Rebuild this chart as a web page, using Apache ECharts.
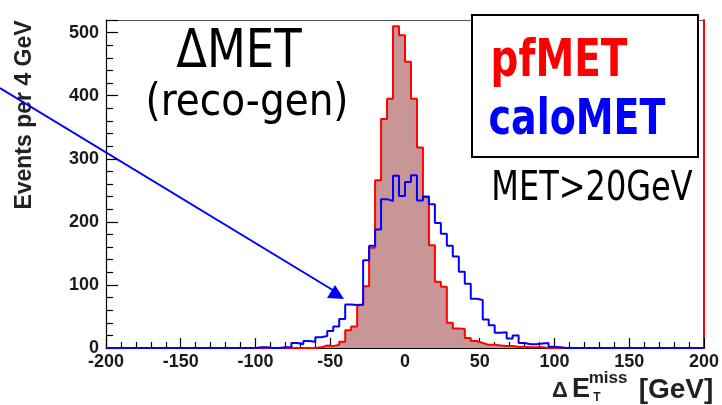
<!DOCTYPE html>
<html>
<head>
<meta charset="utf-8">
<script src="https://cdn.jsdelivr.net/npm/echarts@6/dist/echarts.min.js"></script>
<style>html,body{margin:0;padding:0;background:#fff}#c{width:722px;height:405px}</style>
</head>
<body>
<div id="c"></div>
<script>
// Histogram binning: 100 bins of 4 GeV from -200 to 200
const binStart = -200;
const binWidth = 4;
// pfMET (red, filled) counts per bin
const pfMET = [
  0,0,0,0,0,0,0,0,0,0,
  0,0,0,0,0,0,0,0,0,0,
  0,0,0,0,0,0,0,0,0,0,
  0,0,0,0,0,1,4,3,5,10,
  28,34,68,98,159,266,363,395,510,496,
  454,395,318,239,163,105,97,40,31,30,
  16,11,8,5,5,4,3,3,2,2,
  1,1,1,0,0,0,0,0,0,0,
  0,0,0,0,0,0,0,0,0,0,
  0,0,0,0,0,0,0,0,0,0
];
// caloMET (blue, outline) counts per bin
const caloMET = [
  0,0,0,0,0,0,0,0,0,0,
  0,0,0,0,0,0,0,0,0,0,
  0,0,0,0,0,1,1,0,0,1,
  1,8,6,11,10,17,19,27,34,46,
  69,68,69,139,162,188,236,233,273,241,
  263,274,234,240,228,198,181,162,145,121,
  102,78,76,45,36,24,25,15,20,8,
  6,6,7,8,2,1,0,0,0,0,
  0,0,0,0,0,0,0,0,0,0,
  0,0,0,0,0,0,0,0,0,0
];
const xMin = -200, xMax = 200, xStep = 50;
const yMin = 0, yMax = 520, yStep = 100;
const yTitle = 'Events per 4 GeV';
const annoMain = '\u0394MET';
const annoSub = '(reco-gen)';
const annoCut = 'MET>20GeV';
const legendNames = ['pfMET', 'caloMET'];

function toStep(arr) {
  const d = arr.map((v, i) => [binStart + i * binWidth, v]);
  d.push([binStart + arr.length * binWidth, arr[arr.length - 1]]);
  return d;
}

const chart = echarts.init(document.getElementById('c'), null, {renderer: 'canvas'});
const lblFont = {fontFamily: 'Liberation Sans', fontWeight: 'bold', fontSize: 18, color: '#1a1a1a'};
const comic = 'DejaVu Sans';

chart.setOption({
  animation: false,
  backgroundColor: '#fff',
  grid: {left: 106, right: 15, top: 20, bottom: 57, show: false},
  xAxis: [{
    type: 'value', min: xMin, max: xMax, interval: xStep,
    axisLine: {show: true, onZero: false, lineStyle: {color: '#000', width: 1.2}},
    axisTick: {show: true, inside: true, length: 10, lineStyle: {color: '#000', width: 1.2}},
    minorTick: {show: true, splitNumber: 5, length: 6, lineStyle: {color: '#000', width: 1.2}},
    splitLine: {show: false},
    axisLabel: Object.assign({margin: 5}, lblFont)
  }, {
    type: 'value', min: xMin, max: xMax, position: 'top',
    axisLine: {show: true, onZero: false, lineStyle: {color: '#555', width: 1}},
    axisTick: {show: false}, axisLabel: {show: false}, splitLine: {show: false}
  }],
  yAxis: [{
    type: 'value', min: yMin, max: yMax, interval: yStep,
    axisLine: {show: true, onZero: false, lineStyle: {color: '#000', width: 1.2}},
    axisTick: {show: true, inside: true, length: 12, lineStyle: {color: '#000', width: 1.2}},
    minorTick: {show: true, splitNumber: 5, length: 7, lineStyle: {color: '#000', width: 1.2}},
    splitLine: {show: false},
    axisLabel: Object.assign({margin: 7, showMaxLabel: false}, lblFont)
  }, {
    type: 'value', min: yMin, max: yMax, position: 'right',
    axisLine: {show: true, onZero: false, lineStyle: {color: '#ff0000', width: 2}},
    axisTick: {show: false}, axisLabel: {show: false}, splitLine: {show: false}
  }],
  series: [{
    name: legendNames[0], type: 'line', step: 'end', data: toStep(pfMET),
    symbol: 'none', z: 2,
    lineStyle: {color: '#ff0000', width: 2},
    areaStyle: {color: '#c89696', opacity: 1}
  }, {
    name: legendNames[1], type: 'line', step: 'end', data: toStep(caloMET),
    symbol: 'none', z: 3,
    lineStyle: {color: '#0000ff', width: 2}
  }],
  graphic: [
    // y axis title
    {type: 'text', x: 25, y: 115, rotation: Math.PI / 2,
     style: {text: yTitle, fontFamily: 'Liberation Sans', fontWeight: 'bold', fontSize: 23, fill: '#222', align: 'center', verticalAlign: 'middle'}},
    // x axis title
    {type: 'text', x: 560, y: 391, style: {text: '\u0394', fontFamily: 'Liberation Sans', fontWeight: 'bold', fontSize: 22, fill: '#222', align: 'center', verticalAlign: 'middle'}},
    {type: 'text', x: 581, y: 390, style: {text: 'E', fontFamily: 'Liberation Sans', fontWeight: 'bold', fontSize: 27, fill: '#222', align: 'center', verticalAlign: 'middle'}},
    {type: 'text', x: 608, y: 378, style: {text: 'miss', fontFamily: 'Liberation Sans', fontWeight: 'bold', fontSize: 17, fill: '#222', align: 'center', verticalAlign: 'middle'}},
    {type: 'text', x: 597, y: 398, style: {text: 'T', fontFamily: 'Liberation Sans', fontWeight: 'bold', fontSize: 12, fill: '#222', align: 'center', verticalAlign: 'middle'}},
    {type: 'text', x: 676, y: 390, style: {text: '[GeV]', fontFamily: 'Liberation Sans', fontWeight: 'bold', fontSize: 28, fill: '#222', align: 'center', verticalAlign: 'middle'}},
    // annotations
    {type: 'text', x: 239, y: 53, scaleY: 1.18,
     style: {text: annoMain, fontFamily: comic, fontSize: 45, fill: '#000', align: 'center', verticalAlign: 'middle'}},
    {type: 'text', x: 247, y: 103, scaleY: 1.15,
     style: {text: annoSub, fontFamily: comic, fontSize: 39, fill: '#000', align: 'center', verticalAlign: 'middle'}},
    {type: 'text', x: 592, y: 190, scaleY: 1.26,
     style: {text: annoCut, fontFamily: comic, fontSize: 32, fill: '#000', align: 'center', verticalAlign: 'middle'}},
    // legend box
    {type: 'rect', shape: {x: 472, y: 15, width: 226, height: 142}, z: 10,
     style: {fill: '#fff', stroke: '#000', lineWidth: 2}},
    {type: 'text', x: 559, y: 63, scaleY: 1.3, z: 11,
     style: {text: legendNames[0], fontFamily: comic, fontWeight: 'bold', fontSize: 39, fill: '#ff0000', align: 'center', verticalAlign: 'middle'}},
    {type: 'text', x: 577, y: 121, scaleY: 1.3, z: 11,
     style: {text: legendNames[1], fontFamily: comic, fontWeight: 'bold', fontSize: 38, fill: '#0000ff', align: 'center', verticalAlign: 'middle'}},
    // arrow annotation
    {type: 'line', shape: {x1: 0, y1: 88, x2: 336, y2: 292}, z: 10,
     style: {stroke: '#0000ff', lineWidth: 2}},
    {type: 'polygon', shape: {points: [[344, 299], [327, 298], [335, 285]]}, z: 10,
     style: {fill: '#0000ff'}}
  ]
});
</script>
</body>
</html>
